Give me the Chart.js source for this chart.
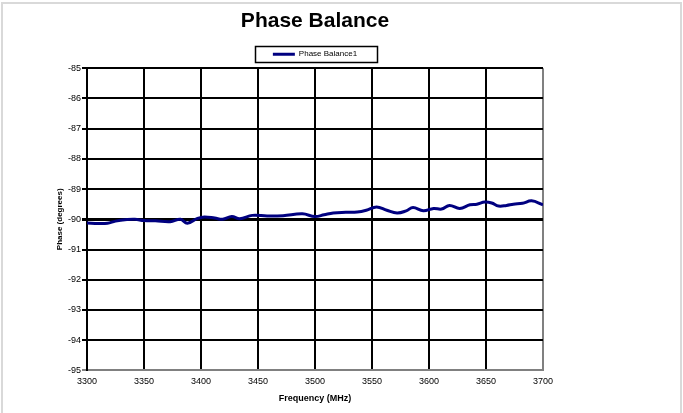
<!DOCTYPE html>
<html lang="en">
<head>
<meta charset="utf-8">
<script src="https://cdn.jsdelivr.net/npm/chart.js"></script>
<title>Phase Balance</title>
<style>
  body { margin: 0; background: #fff; }
  #wrap { position: relative; width: 683px; height: 413px; }
</style>
</head>
<body>
<div id="wrap"><canvas id="phaseChart"></canvas></div>
<script>
  // values
  const freqMHz = [3300, 3310, 3318, 3325, 3335, 3342, 3350, 3360, 3373, 3382, 3388, 3397,
    3403, 3412, 3419, 3427, 3434, 3445, 3458, 3472, 3489, 3500, 3508, 3516, 3527, 3537,
    3545, 3554, 3563, 3572, 3580, 3586, 3595, 3604, 3611, 3618, 3627, 3636, 3642, 3649,
    3655, 3661, 3668, 3674, 3682, 3690, 3700];
  const phaseDeg = [-90.12, -90.14, -90.13, -90.06, -90.01, -90.00, -90.04, -90.05, -90.08, -90.00, -90.13, -89.97,
    -89.92, -89.96, -90.00, -89.91, -89.98, -89.87, -89.89, -89.88, -89.82, -89.91, -89.85, -89.79, -89.77, -89.76,
    -89.70, -89.59, -89.70, -89.79, -89.72, -89.61, -89.72, -89.64, -89.66, -89.54, -89.64, -89.52, -89.50, -89.43,
    -89.46, -89.56, -89.54, -89.50, -89.47, -89.39, -89.52];
  const seriesName = 'Phase Balance1';
  const xRange = [3300, 3700];
  const yRange = [-95, -85];

  const fontFamily = 'Arial, "Liberation Sans", sans-serif';

  // grey frame round the whole picture + box round the legend
  const framePlugin = {
    id: 'frame',
    beforeDraw(chart) {
      const ctx = chart.ctx;
      ctx.save();
      ctx.fillStyle = '#fff';
      ctx.fillRect(0, 0, chart.width, chart.height);
      ctx.strokeStyle = '#d9d9d9';
      ctx.lineWidth = 2;
      ctx.beginPath();
      ctx.moveTo(2, chart.height);
      ctx.lineTo(2, 3);
      ctx.lineTo(681, 3);
      ctx.lineTo(681, chart.height);
      ctx.stroke();
      ctx.restore();
    },
    afterDraw(chart) {
      const hb = chart.legend.legendHitBoxes[0];
      if (!hb) return;
      const ctx = chart.ctx;
      const cy = hb.top + hb.height / 2;
      ctx.save();
      ctx.strokeStyle = '#000';
      ctx.lineWidth = 1.5;
      ctx.strokeRect(Math.round(hb.left - 18) + 0.5, Math.round(cy - 8) + 0.5, Math.round(hb.width + 38), 16);
      ctx.restore();
    }
  };

  const ctx = document.getElementById('phaseChart').getContext('2d');
  new Chart(ctx, {
    type: 'line',
    data: {
      datasets: [{
        label: seriesName,
        data: freqMHz.map((f, i) => ({ x: f, y: phaseDeg[i] })),
        borderColor: '#000080',
        backgroundColor: '#000080',
        borderWidth: 3,
        pointRadius: 0,
        tension: 0.4,
        fill: false
      }]
    },
    options: {
      responsive: true,
      maintainAspectRatio: false,
      animation: false,
      layout: { padding: { left: 55, right: 140, top: 0, bottom: 9 } },
      plugins: {
        title: {
          display: true,
          text: 'Phase Balance',
          fullSize: false,
          color: '#000',
          font: { family: fontFamily, size: 21, weight: 'bold' },
          padding: { top: 9, bottom: 10 }
        },
        legend: {
          display: true,
          fullSize: false,
          labels: {
            color: '#000',
            font: { family: fontFamily, size: 8 },
            boxWidth: 22,
            boxHeight: 3,
            padding: 6,
            generateLabels: chart => Chart.defaults.plugins.legend.labels.generateLabels(chart)
              .map(l => ({ ...l, strokeStyle: 'rgba(0,0,0,0)', lineWidth: 0 }))
          },
          onClick: null
        },
        tooltip: { enabled: false }
      },
      scales: {
        x: {
          type: 'linear',
          min: xRange[0],
          max: xRange[1],
          ticks: { stepSize: 50, color: '#000', padding: 6, maxRotation: 0,
                   callback: v => String(v),
                   font: { family: fontFamily, size: 9 } },
          grid: {
            drawTicks: false,
            lineWidth: 2,
            color: c => (c.tick && c.tick.value === xRange[1]) ? '#808080' : '#000'
          },
          border: { color: '#808080', width: 2 },
          title: { display: true, text: 'Frequency (MHz)', color: '#000',
                   font: { family: fontFamily, size: 9, weight: 'bold' },
                   padding: { top: 0, bottom: 0 } }
        },
        y: {
          type: 'linear',
          min: yRange[0],
          max: yRange[1],
          afterFit: s => { s.width = 32; },
          ticks: { stepSize: 1, color: '#000', padding: 1,
                   font: { family: fontFamily, size: 9 } },
          grid: {
            drawTicks: true,
            tickLength: 5,
            lineWidth: c => (c.tick && c.tick.value === -90) ? 3 : 2,
            color: c => (c.tick && c.tick.value === yRange[0]) ? '#808080' : '#000'
          },
          border: { color: '#000', width: 2 },
          title: { display: true, text: 'Phase (degrees)', color: '#000',
                   font: { family: fontFamily, size: 8, weight: 'bold' },
                   padding: 0 }
        }
      }
    },
    plugins: [framePlugin]
  });
</script>
</body>
</html>
